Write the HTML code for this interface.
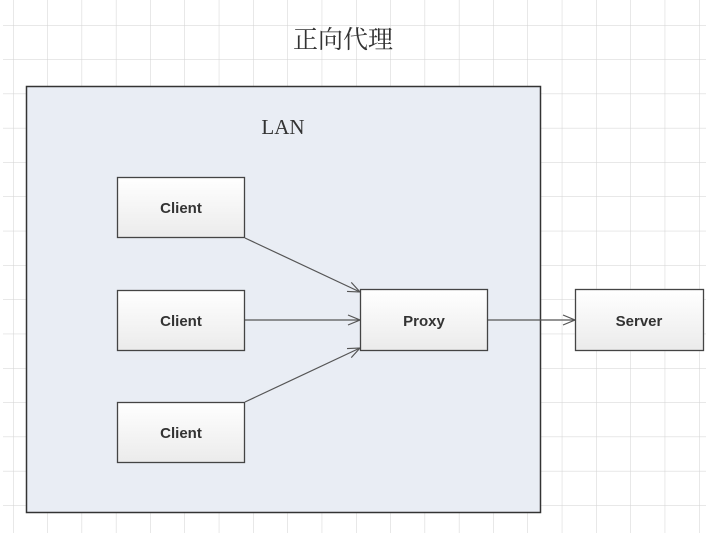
<!DOCTYPE html>
<html><head><meta charset="utf-8"><style>
body{margin:0;width:706px;height:546px;background:#fff;overflow:hidden;}
</style></head><body>
<svg width="706" height="546" xmlns="http://www.w3.org/2000/svg" style="position:absolute;left:0;top:0">
<defs>
<linearGradient id="g" x1="0" y1="0" x2="0" y2="1"><stop offset="0" stop-color="#ffffff"/><stop offset="1" stop-color="#ebebeb"/></linearGradient>
<pattern id="grid" x="13" y="25" width="34.3" height="34.3" patternUnits="userSpaceOnUse">
<path d="M0 0V34.3M0 0H34.3" stroke="#d2d2d2" stroke-width="1" fill="none"/></pattern>
<marker id="a" markerWidth="14" markerHeight="12" refX="13" refY="6" orient="auto" markerUnits="userSpaceOnUse">
<path d="M1 1L13 6L1 11" fill="none" stroke="#555" stroke-width="1.2"/></marker>
</defs>
<rect x="3" y="0" width="703" height="533" fill="url(#grid)"/>
<rect x="3" y="0" width="10" height="25" fill="#fff"/>
<text x="343" y="48" text-anchor="middle" font-family="'Liberation Serif','Noto Serif CJK SC',serif" font-size="25" fill="#333">正向代理</text>
<rect x="26.5" y="86.5" width="514" height="426" fill="#e9edf4" stroke="#333" stroke-width="1.5"/>
<text x="283" y="134" text-anchor="middle" font-family="'Liberation Serif',serif" font-size="21" fill="#333">LAN</text>
<g stroke="#555" stroke-width="1.2" fill="none">
<line x1="245" y1="238" x2="360" y2="292" marker-end="url(#a)"/>
<line x1="245" y1="320" x2="360" y2="320" marker-end="url(#a)"/>
<line x1="245" y1="402" x2="360" y2="348" marker-end="url(#a)"/>
<line x1="488" y1="320" x2="575" y2="320" marker-end="url(#a)"/>
</g>
<g stroke="#444" stroke-width="1.3" fill="url(#g)">
<rect x="117.5" y="177.5" width="127" height="60"/>
<rect x="117.5" y="290.5" width="127" height="60"/>
<rect x="117.5" y="402.5" width="127" height="60"/>
<rect x="360.5" y="289.5" width="127" height="61"/>
<rect x="575.5" y="289.5" width="128" height="61"/>
</g>
<g font-family="'Liberation Sans',sans-serif" font-size="15" font-weight="bold" fill="#333" text-anchor="middle">
<text x="181" y="213">Client</text>
<text x="181" y="326">Client</text>
<text x="181" y="438">Client</text>
<text x="424" y="326">Proxy</text>
<text x="639" y="326">Server</text>
</g>
</svg>
</body></html>
